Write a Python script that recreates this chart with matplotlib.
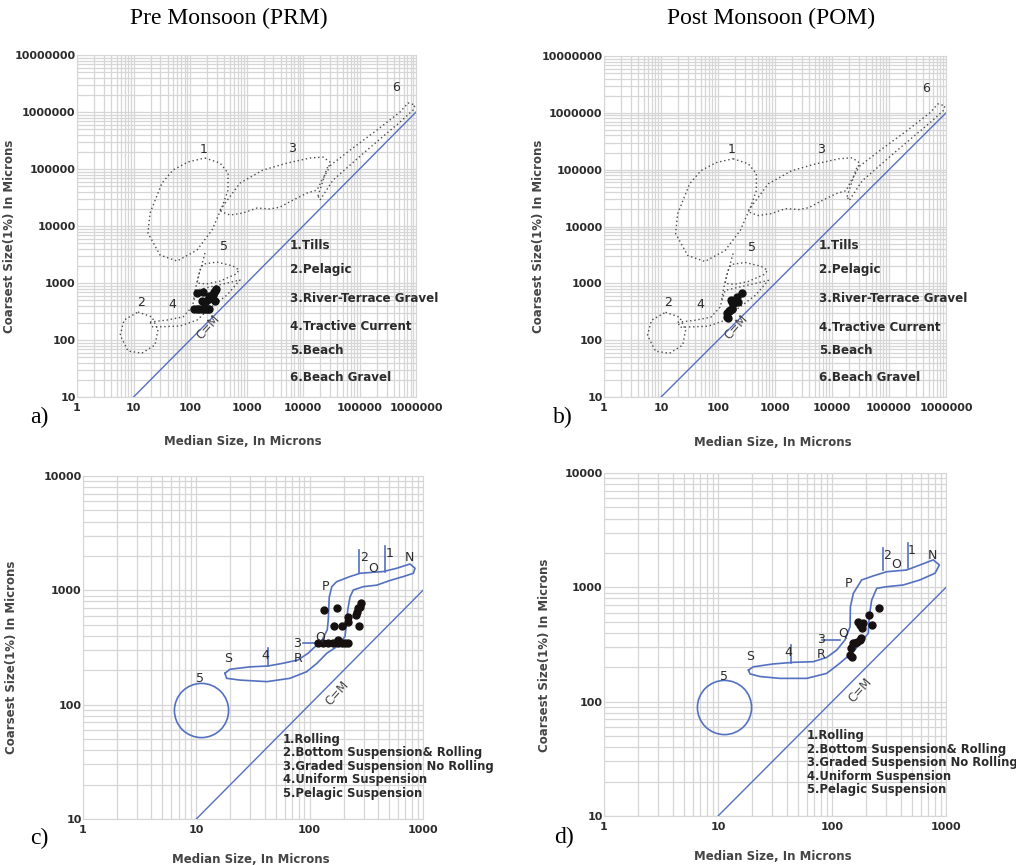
import numpy as np
import matplotlib.pyplot as plt
from matplotlib.ticker import LogLocator, NullFormatter

# ---------------- sample points (median, coarsest 1%) ----------------
prm_median = [134, 173, 164, 193, 220, 220, 275, 260, 269, 284, 278, 256,
              119, 132, 146, 162, 179, 192, 205, 220, 179]
prm_coarsest = [675, 706, 491, 491, 589, 532, 491, 651, 697, 780, 720, 610,
                348, 348, 348, 348, 348, 348, 348, 348, 368]

pom_median = [260, 212, 224, 170, 175, 182, 188, 175, 165, 159, 154, 146, 144, 150, 178]
pom_coarsest = [664, 574, 469, 501, 469, 439, 491, 347, 335, 328, 329, 297, 256, 247, 360]

# ---------------- CM field outlines (top charts, dotted) ----------------
tills_x = [184, 340, 471, 471, 368, 245, 133, 59, 29.4, 18, 19.6, 31.9, 50, 92]
tills_y = [156000, 127000, 85000, 42800, 21500, 8500, 3790, 2430, 3100, 7540,
           16900, 56800, 96000, 133000]

pelagic_x = [12.0, 21.2, 27, 24, 14.1, 8.0, 5.8, 6.8]
pelagic_y = [310, 254, 150, 82, 59, 64, 122, 224]

terrace_x = [340, 767, 1960, 5210, 13300, 22600, 30000, 27700, 21700, 17700,
             11800, 6650, 3920, 2610, 1535, 867, 511, 368]
terrace_y = [19100, 56800, 96000, 127000, 156000, 162000, 133000, 96000, 64100,
             42800, 37900, 28600, 21500, 19900, 20700, 16900, 15600, 17600]

gravel_x = [18400, 26600, 67900, 204000, 521000, 721000, 960000, 885000, 521000,
            136000, 34000, 20000]
gravel_y = [33600, 104000, 215000, 483000, 1.0e6, 1.44e6, 1.33e6, 1.08e6, 668000,
            215000, 64100, 28600]

tractive_x = [19.6, 39, 75, 108, 133, 767, 451, 226, 133, 66.5, 22]
tractive_y = [207, 224, 254, 379, 753, 1130, 615, 364, 224, 176, 169]

beach_x = [150, 170, 300, 577, 737, 652, 340, 192, 133]
beach_y = [1690, 2150, 2330, 1990, 1690, 1440, 1080, 960, 1000]
beach_tail_x = [184, 160, 140, 125, 115]
beach_tail_y = [3360, 2000, 1300, 800, 500]

field_labels = ['1', '3', '6', '5', '2', '4']
field_label_x = [172, 6470, 443000, 400, 13.4, 48.6]
field_label_y = [224000, 231000, 2.71e6, 4340, 458, 423]

top_legend = ['1.Tills', '2.Pelagic', '3.River-Terrace Gravel',
              '4.Tractive Current', '5.Beach', '6.Beach Gravel']

# ---------------- Passega pattern (bottom charts) ----------------
pat_c_x = [17.9, 19.8, 29.8, 43, 58, 79, 97, 116, 129, 143, 146, 149, 157, 173, 227,
           279, 447, 587, 769, 851, 823, 671, 512, 391, 298, 243, 227, 217, 210, 205,
           173, 142, 116, 94, 67, 42, 24.3, 18.5]
pat_c_y = [188, 204, 214, 218, 230, 246, 282, 333, 368, 451, 551, 875, 1077, 1190, 1320,
           1410, 1460, 1560, 1700, 1560, 1410, 1320, 1220, 1110, 1077, 1007, 875, 675, 481,
           394, 321, 282, 230, 194, 170, 159, 164, 170]

pat_d_x = [18.5, 20.4, 30.5, 45.8, 68.6, 89.8, 110, 130, 144, 145, 154, 182, 230, 302,
           452, 591, 774, 874, 801, 591, 422, 302, 247, 223, 212, 208, 154, 117, 89.8,
           60, 35, 23.4, 19.1]
pat_d_y = [189, 202, 214, 221, 224, 244, 283, 347, 453, 678, 888, 1162, 1260, 1371,
           1420, 1570, 1740, 1570, 1330, 1162, 1050, 1014, 981, 776, 555, 397, 274, 217,
           177, 160, 160, 166, 175]

# boundary ticks 2, 1, 3, 4
seg_c = [([275, 275], [2250, 1410]), ([463, 463], [2440, 1460]),
         ([88, 119], [348, 348]), ([43, 43], [312, 218])]
seg_d = [([279, 279], [2200, 1420]), ([461, 461], [2460, 1470]),
         ([81, 117], [347, 347]), ([44, 44], [313, 217])]

pat_labels = ['S', '4', 'R', '3', 'Q', 'P', '2', 'O', '1', 'N', '5']
pat_c_lx = [18.9, 40.4, 79.5, 78, 125, 137, 302, 361, 505, 759, 10.8]
pat_c_ly = [251, 267, 255, 344, 394, 1077, 1950, 1560, 2080, 1930, 168]
pat_d_lx = [19.1, 41.4, 81, 80, 126, 139, 302, 362, 503, 764, 11.3]
pat_d_ly = [251, 268, 260, 347, 397, 1072, 1920, 1570, 2095, 1920, 166]

pelagic_susp_c = (11, 90)
pelagic_susp_d = (11.3, 90)

bottom_legend = ['1.Rolling', '2.Bottom Suspension& Rolling',
                 '3.Graded Suspension No Rolling', '4.Uniform Suspension',
                 '5.Pelagic Suspension']

BLUE = '#5470c0'
GRID = '#d6d6d6'
TXT = '#2b2b2b'


def setup_axes(ax, xmax, ymax, xlab_pos, ylab_pos):
    ax.set_xscale('log')
    ax.set_yscale('log')
    ax.set_xlim(1, xmax)
    ax.set_ylim(10, ymax)
    xt = [10 ** k for k in range(0, int(round(np.log10(xmax))) + 1)]
    yt = [10 ** k for k in range(1, int(round(np.log10(ymax))) + 1)]
    ax.set_xticks(xt)
    ax.set_xticklabels([str(v) for v in xt])
    ax.set_yticks(yt)
    ax.set_yticklabels([str(v) for v in yt])
    ax.xaxis.set_minor_locator(LogLocator(base=10, subs=np.arange(2, 10)))
    ax.yaxis.set_minor_locator(LogLocator(base=10, subs=np.arange(2, 10)))
    ax.xaxis.set_minor_formatter(NullFormatter())
    ax.yaxis.set_minor_formatter(NullFormatter())
    ax.tick_params(which='both', length=0, labelsize=8, labelcolor=TXT)
    ax.tick_params(axis='y', pad=1)
    ax.tick_params(axis='x', pad=4)
    for lab in ax.get_xticklabels() + ax.get_yticklabels():
        lab.set_fontweight('bold')
    ax.grid(True, which='both', color=GRID, lw=0.9)
    ax.set_axisbelow(True)
    for s in ax.spines.values():
        s.set_color(GRID)
    ax.set_xlabel('Median Size, In Microns', fontsize=8.5, fontweight='bold', color='#444444')
    ax.set_ylabel('Coarsest Size(1%) In Microns', fontsize=8.5, fontweight='bold', color='#444444')
    ax.xaxis.set_label_coords(*xlab_pos)
    ax.yaxis.set_label_coords(*ylab_pos)


def closed(x, y):
    return list(x) + [x[0]], list(y) + [y[0]]


def draw_top(ax, med, coarse):
    dot = dict(color='#4a4a4a', lw=1.0, ls=(0, (1, 2)))
    for xs, ys in [(tills_x, tills_y), (pelagic_x, pelagic_y), (terrace_x, terrace_y),
                   (gravel_x, gravel_y), (tractive_x, tractive_y), (beach_x, beach_y)]:
        cx, cy = closed(xs, ys)
        ax.plot(cx, cy, **dot)
    ax.plot(beach_tail_x, beach_tail_y, **dot)
    ax.plot([10, 1e6], [10, 1e6], color=BLUE, lw=1.0)
    ax.text(211, 167, 'C=M', rotation=48, fontsize=8.5, color='#444444',
            ha='center', va='center')
    for t, x, y in zip(field_labels, field_label_x, field_label_y):
        ax.text(x, y, t, fontsize=9, color=TXT, ha='center', va='center')
    ax.plot(med, coarse, 'o', color='#111111', ms=5)
    ys = [0.444, 0.374, 0.289, 0.205, 0.137, 0.058]
    for t, y in zip(top_legend, ys):
        ax.text(0.628, y, t, transform=ax.transAxes, fontsize=8.6, fontweight='bold',
                color=TXT, ha='left', va='center', clip_on=False)


def draw_bottom(ax, med, coarse, px, py, segs, lx, ly, circ):
    cx, cy = closed(px, py)
    ax.plot(cx, cy, color=BLUE, lw=1.2)
    for sx, sy in segs:
        ax.plot(sx, sy, color=BLUE, lw=1.2)
    ax.plot([circ[0]], [circ[1]], 'o', mfc='none', mec=BLUE, mew=1.2, ms=39)
    ax.plot([10, 1000], [10, 1000], color=BLUE, lw=1.0)
    ax.text(176, 126, 'C=M', rotation=48, fontsize=8.5, color='#444444',
            ha='center', va='center')
    for t, x, y in zip(pat_labels, lx, ly):
        ax.text(x, y, t, fontsize=9, color=TXT, ha='center', va='center')
    ax.plot(med, coarse, 'o', color='#161010', ms=5)


fig = plt.figure(figsize=(10.16, 8.65), dpi=100)
ax_a = fig.add_axes([0.0758, 0.541, 0.3337, 0.3954])
ax_b = fig.add_axes([0.5945, 0.541, 0.3366, 0.3942])
ax_c = fig.add_axes([0.0817, 0.0532, 0.3346, 0.3965])
ax_d = fig.add_axes([0.5945, 0.0566, 0.3366, 0.3965])

setup_axes(ax_a, 1e6, 1e7, (0.49, -0.111), (-0.18, 0.47))
setup_axes(ax_b, 1e6, 1e7, (0.494, -0.114), (-0.172, 0.47))
setup_axes(ax_c, 1000, 10000, (0.494, -0.1), (-0.191, 0.47))
setup_axes(ax_d, 1000, 10000, (0.494, -0.1), (-0.156, 0.47))

draw_top(ax_a, prm_median, prm_coarsest)
draw_top(ax_b, pom_median, pom_coarsest)
draw_bottom(ax_c, prm_median, prm_coarsest, pat_c_x, pat_c_y, seg_c,
            pat_c_lx, pat_c_ly, pelagic_susp_c)
draw_bottom(ax_d, pom_median, pom_coarsest, pat_d_x, pat_d_y, seg_d,
            pat_d_lx, pat_d_ly, pelagic_susp_d)

for ax, x0, y0 in [(ax_c, 0.588, 0.252), (ax_d, 0.593, 0.253)]:
    ax.text(x0, y0, '\n'.join(bottom_legend), transform=ax.transAxes, fontsize=8.4,
            fontweight='bold', color=TXT, ha='left', va='top', linespacing=1.05,
            clip_on=False)

serif = 'Liberation Serif'
fig.text(229 / 1016, 1 - 18 / 865, 'Pre Monsoon (PRM)', family=serif, fontsize=17,
         ha='center', va='center')
fig.text(771 / 1016, 1 - 18 / 865, 'Post Monsoon (POM)', family=serif, fontsize=17,
         ha='center', va='center')
for t, x, y in [('a)', 39, 417), ('b)', 563, 417), ('c)', 39, 838), ('d)', 564, 837)]:
    fig.text(x / 1016, 1 - y / 865, t, family=serif, fontsize=17, ha='center', va='center')

fig.savefig('out.png', dpi=100)
